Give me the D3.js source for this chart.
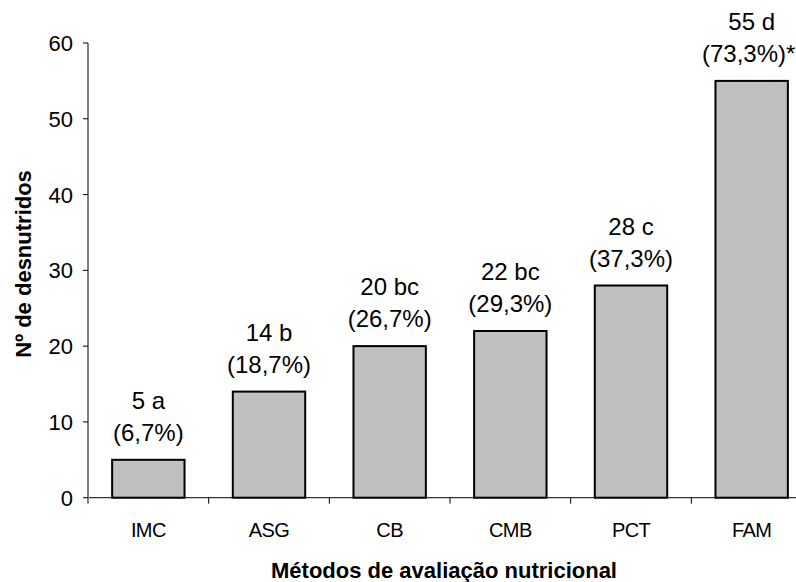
<!DOCTYPE html>
<html><head><meta charset="utf-8">
<script src="https://cdn.jsdelivr.net/npm/d3@7"></script>
<style>body{margin:0;background:#fff}svg{display:block}text{font-family:"Liberation Sans",Arial,sans-serif;fill:#000}</style>
</head><body><svg id="c" width="796" height="582"></svg>
<script>
const categories = ["IMC","ASG","CB","CMB","PCT","FAM"];
const values = [5,14,20,22,28,55];
const labelTop = ["5 a","14 b","20 bc","22 bc","28 c","55 d"];
const labelPct = ["(6,7%)","(18,7%)","(26,7%)","(29,3%)","(37,3%)","(73,3%)*"];
const yTicks = [0,10,20,30,40,50,60];

const svg = d3.select("#c");
const x = d3.scaleBand().domain(categories).range([88,812]).paddingInner(0.4).paddingOuter(0.2);
const y = d3.scaleLinear().domain([0,60]).range([497.7,43]);

// bars
svg.selectAll("rect.bar").data(values).enter().append("rect")
  .attr("x",(d,i)=>x(categories[i])).attr("width",x.bandwidth())
  .attr("y",d=>y(d)).attr("height",d=>y(0)-y(d))
  .attr("fill","#c0c0c0").attr("stroke","#000").attr("stroke-width",2);

// x axis
const xb = d3.scaleLinear().domain([0,6]).range([88,812]);
svg.append("line").attr("x1",88).attr("x2",812).attr("y1",y(0)).attr("y2",y(0)).attr("stroke","#000").attr("stroke-width",1);
svg.selectAll("line.xt").data(d3.range(0,7)).enter().append("line")
  .attr("x1",d=>xb(d)).attr("x2",d=>xb(d)).attr("y1",y(0)).attr("y2",y(0)+6).attr("stroke","#000");
svg.selectAll("text.xl").data(categories).enter().append("text")
  .attr("x",d=>x(d)+x.bandwidth()/2).attr("y",537).attr("text-anchor","middle")
  .attr("font-size",20).attr("letter-spacing",-0.6).text(d=>d);

// y axis
svg.append("line").attr("x1",88).attr("x2",88).attr("y1",y(60)).attr("y2",y(0)+5).attr("stroke","#808080").attr("stroke-width",2);
svg.selectAll("line.yt").data(yTicks).enter().append("line")
  .attr("x1",83).attr("x2",88).attr("y1",d=>y(d)).attr("y2",d=>y(d)).attr("stroke","#000");
svg.selectAll("text.yl").data(yTicks).enter().append("text")
  .attr("x",73).attr("y",d=>y(d)+8).attr("text-anchor","end").attr("font-size",22).text(d=>d);

// value labels
svg.selectAll("text.v1").data(values).enter().append("text")
  .attr("x",(d,i)=>x(categories[i])+x.bandwidth()/2).attr("y",d=>y(d)-51)
  .attr("text-anchor","middle").attr("font-size",24).text((d,i)=>labelTop[i]);
svg.selectAll("text.v2").data(values).enter().append("text")
  .attr("x",(d,i)=>x(categories[i])+x.bandwidth()/2 - (labelPct[i].endsWith("*")?3:0)).attr("y",d=>y(d)-19)
  .attr("text-anchor","middle").attr("font-size",24).text((d,i)=>labelPct[i]);

// titles
svg.append("text").attr("x",444).attr("y",578).attr("text-anchor","middle")
  .attr("font-size",22).attr("font-weight","bold").text("Métodos de avaliação nutricional");
svg.append("text").attr("transform","translate(31,264) rotate(-90)").attr("text-anchor","middle")
  .attr("font-size",22).attr("font-weight","bold").text("Nº de desnutridos");
</script></body></html>
